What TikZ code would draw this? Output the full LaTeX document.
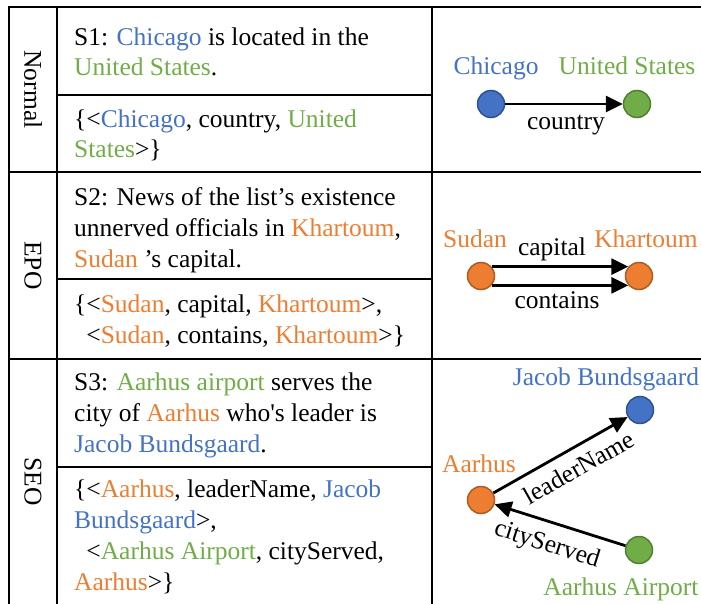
\documentclass[tikz,border=0pt]{standalone}
\usepackage{fontspec}
\setmainfont{Liberation Serif}
\usetikzlibrary{arrows.meta}

\definecolor{entblue}{HTML}{4472C4}
\definecolor{entgreen}{HTML}{70AD47}
\definecolor{entorange}{HTML}{ED7D31}
\definecolor{rimblue}{HTML}{2F528F}
\definecolor{rimgreen}{HTML}{507E32}
\definecolor{rimorange}{HTML}{AE5A21}

\newcommand{\entB}[1]{\textcolor{entblue}{#1}}
\newcommand{\entG}[1]{\textcolor{entgreen}{#1}}
\newcommand{\entO}[1]{\textcolor{entorange}{#1}}

\begin{document}
\begin{tikzpicture}[x=1pt, y=-1pt,
  every node/.style={font=\fontsize{25.5}{30.8}\selectfont, inner sep=0pt},
  rule/.style={line width=2.2pt, line cap=rect},
  cell/.style={anchor=base west, align=left},
  rowname/.style={rotate=-90},
  ent/.style={circle, line width=1.5pt, minimum size=27pt},
  bluent/.style={ent, fill=entblue, draw=rimblue},
  greenent/.style={ent, fill=entgreen, draw=rimgreen},
  orangeent/.style={ent, fill=entorange, draw=rimorange},
  lbl/.style={anchor=base},
  rel/.style={line width=2.8pt, -{Triangle[length=17pt, width=16pt]}}]

\useasboundingbox (0,0) rectangle (701,604);

% table rules
\draw[rule] (701,7) -- (9,7) -- (9,604);
\draw[rule] (57,7) -- (57,604);
\draw[rule] (432,7) -- (432,604);
\draw[rule] (9,172) -- (701,172);
\draw[rule] (9,359) -- (701,359);
\draw[rule] (57,95) -- (432,95);
\draw[rule] (57,279) -- (432,279);
\draw[rule] (57,467) -- (432,467);

% row names
\node[rowname] (rNormal) at (33,89.5) {Normal};
\node[rowname] (rEPO) at (33,265.5) {EPO};
\node[rowname] (rSEO) at (33,481.5) {SEO};

% sentences and triples (anchored at the baseline of their last line)
\node[cell] (s1) at (74,76) {S1: \entB{Chicago} is located in the\\\entG{United States}.};
\node[cell] (t1) at (74,158) {\{<\entB{Chicago}, country, \entG{United}\\\entG{States}>\}};
\node[cell] (s2) at (74,267) {S2: News of the list’s existence\\unnerved officials in \entO{Khartoum},\\\entO{Sudan} ’s capital.};
\node[cell] (t2) at (74,343) {\{<\entO{Sudan}, capital, \entO{Khartoum}>,\\\phantom{\{}<\entO{Sudan}, contains, \entO{Khartoum}>\}};
\node[cell] (s3) at (74,452) {S3: \entG{Aarhus airport} serves the\\city of \entO{Aarhus} who\textquotesingle s leader is\\\entB{Jacob Bundsgaard}.};
\node[cell] (t3) at (74,590) {\{<\entO{Aarhus}, leaderName, \entB{Jacob}\\\entB{Bundsgaard}>,\\\phantom{\{}<\entG{Aarhus Airport}, cityServed,\\\entO{Aarhus}>\}};

% Normal graph
\node[bluent] (chi) at (491,104) {};
\node[greenent] (usa) at (637,104) {};
\node[lbl, text=entblue] (chiL) at (496,75) {Chicago};
\node[lbl, text=entgreen] (usaL) at (627,75) {United States};
\draw[rel] (chi) -- (usa);
\node[lbl] (country) at (566,130) {country};

% EPO graph
\node[orangeent] (sud) at (481,276) {};
\node[orangeent] (kha) at (639,276) {};
\node[lbl, text=entorange] (sudL) at (475,247) {Sudan};
\node[lbl, text=entorange] (khaL) at (646,247) {Khartoum};
\draw[rel] (sud.41) -- (kha.139);
\draw[rel] (sud.-41) -- (kha.-139);
\node[lbl] (capital) at (552,255) {capital};
\node[lbl] (contains) at (557,308) {contains};

% SEO graph
\node[bluent] (jac) at (640,410) {};
\node[orangeent] (aar) at (481,500) {};
\node[greenent] (air) at (639,550) {};
\node[lbl, text=entblue] (jacL) at (606,385) {Jacob Bundsgaard};
\node[lbl, text=entorange] (aarL) at (479,472) {Aarhus};
\node[lbl, text=entgreen] (airL) at (621,595) {Aarhus Airport};
\draw[rel] (aar) -- (jac);
\draw[rel] (air) -- (aar);
\node[lbl, rotate=29.5] (leader) at (583,475) {leaderName};
\node[lbl, rotate=-17.6] (served) at (545,551) {cityServed};

\end{tikzpicture}
\end{document}
